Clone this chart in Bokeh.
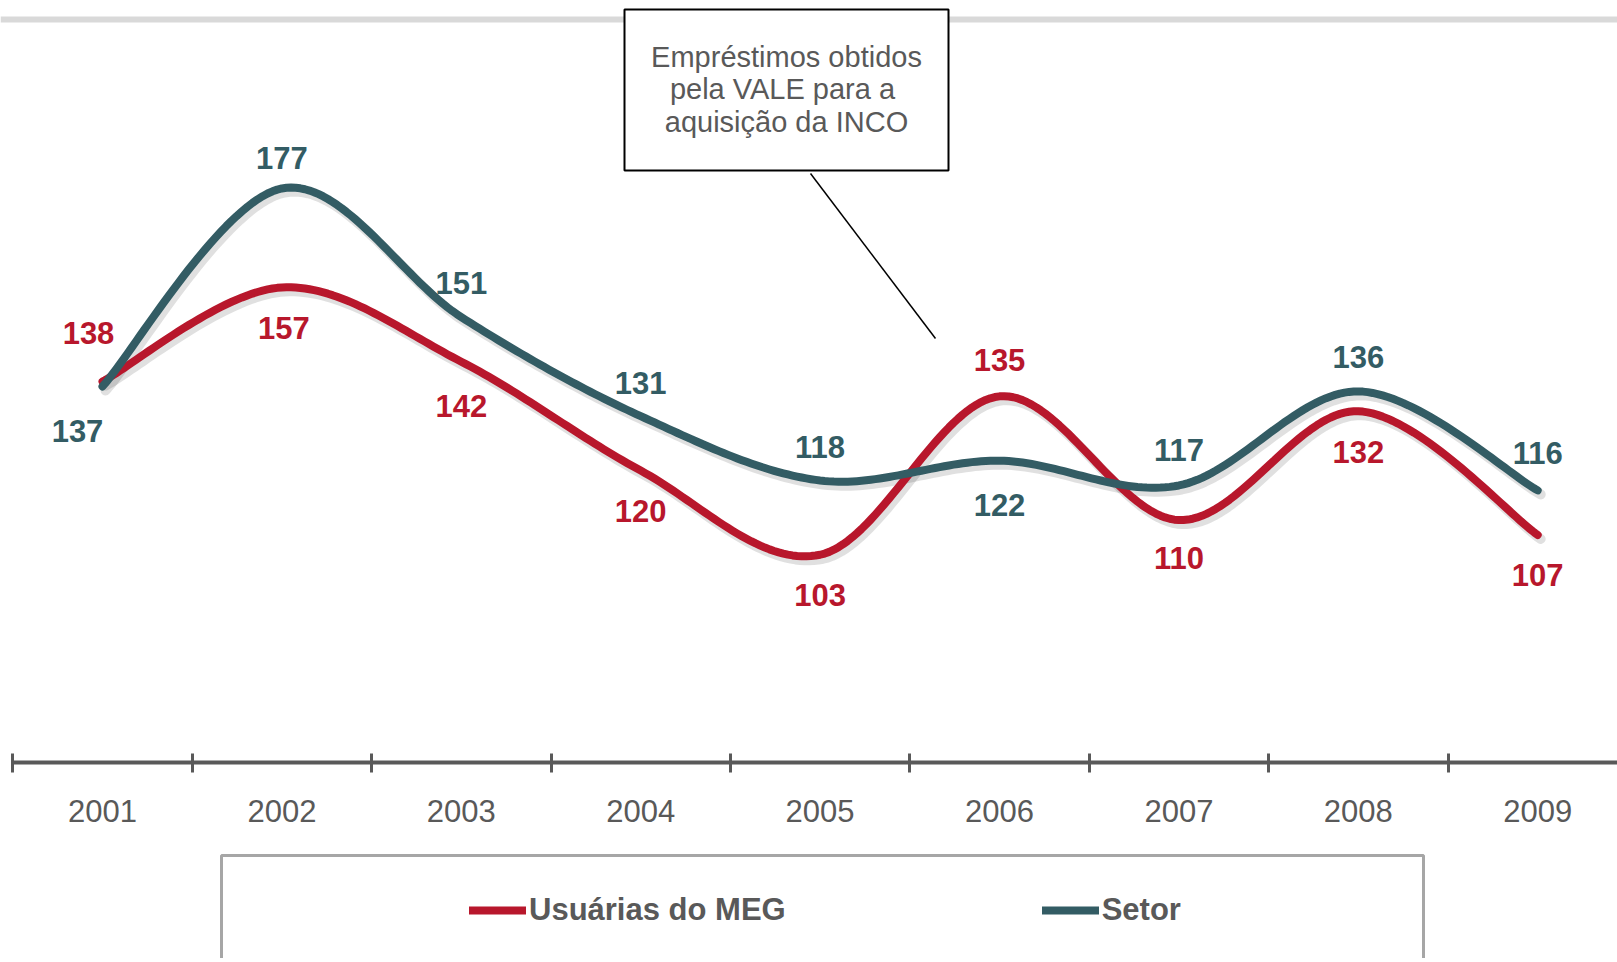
import numpy as np
from bokeh.plotting import figure
from bokeh.models import (Range1d, LinearAxis, FixedTicker, Span, Legend, LegendItem,
                          ColumnDataSource)
from bokeh.core.properties import value
from bokeh.embed import file_html
from bokeh.resources import INLINE

# ---------------- data ----------------
years = ["2001", "2002", "2003", "2004", "2005", "2006", "2007", "2008", "2009"]
usuarias = [138, 157, 142, 120, 103, 135, 110, 132, 107]
setor = [137, 177, 151, 131, 118, 122, 117, 136, 116]
series_names = ["Usuárias do MEG", "Setor"]
note_text = "Empréstimos obtidos\npela  VALE para a\naquisição da INCO"

# ---------------- style ----------------
RED = "#B8172C"
TEAL = "#335C64"
GRAY_TXT = "#595959"
FONT = "Liberation Sans"

# page-pixel calibration (frame covers whole figure, figure at page origin)
W, H = 1617, 958
PAGE0 = 0
PX_X = 179.4           # px per category
X0 = 102.0             # page x of first category
PX_V = 4.95            # px per value unit
V0 = 1064.1            # page y of value 0


def dx(px):
    return (px - X0) / PX_X


def dy(py):
    return (V0 - py) / PX_V


p = figure(width=W, height=H, output_backend="svg", toolbar_location=None,
           x_axis_type=None, y_axis_type=None, title=None,
           x_range=Range1d(dx(PAGE0), dx(PAGE0 + W)),
           y_range=Range1d(dy(PAGE0 + H), dy(PAGE0)),
           min_border=0, min_border_left=0, min_border_right=0,
           min_border_top=0, min_border_bottom=0)
p.outline_line_color = None
p.background_fill_color = "white"
p.border_fill_color = "white"

AXIS_V = dy(762)
GRID_V = dy(19)

# top light gray line
p.add_layout(Span(location=GRID_V, dimension="width", line_color="#D9D9D9",
                  line_width=6, level="underlay"))

# x axis: labels at categories, tick marks between categories (minor ticks)
n = len(years)
x_axis = LinearAxis(fixed_location=AXIS_V,
                    ticker=FixedTicker(ticks=list(range(n)),
                                       minor_ticks=[i - 0.5 for i in range(n + 1)]),
                    major_label_overrides={i: y for i, y in enumerate(years)},
                    axis_line_color=GRAY_TXT, axis_line_width=4,
                    major_tick_line_color=None,
                    major_tick_in=0, major_tick_out=0,
                    minor_tick_line_color=GRAY_TXT, minor_tick_line_width=3,
                    minor_tick_in=9, minor_tick_out=10,
                    major_label_standoff=27,
                    major_label_text_font=FONT,
                    major_label_text_font_size="31px",
                    major_label_text_color=GRAY_TXT,
                    bounds=(-0.5, n + 0.5))
p.add_layout(x_axis, "below")


# smooth curve (Excel-style bezier through the points)
def smooth(xs, ys, steps=40):
    pts = np.column_stack([xs, ys]).astype(float)
    out = []
    m = len(pts)
    t = np.linspace(0, 1, steps)
    for i in range(m - 1):
        p0 = pts[i - 1] if i > 0 else pts[i]
        p1 = pts[i]
        p2 = pts[i + 1]
        p3 = pts[i + 2] if i + 2 < m else pts[i + 1]
        c1 = p1 + (p2 - p0) / 6.0
        c2 = p2 - (p3 - p1) / 6.0
        seg = ((1 - t) ** 3)[:, None] * p1 + (3 * (1 - t) ** 2 * t)[:, None] * c1 \
            + (3 * (1 - t) * t ** 2)[:, None] * c2 + (t ** 3)[:, None] * p2
        out.append(seg if i == 0 else seg[1:])
    arr = np.vstack(out)
    return arr[:, 0], arr[:, 1]


xs = list(range(n))
renderers = []
for vals, col in [(usuarias, RED), (setor, TEAL)]:
    sx, sy = smooth(xs, vals)
    # soft shadow
    p.line(sx + 3 / PX_X, sy - 4 / PX_V, line_color="black", line_alpha=0.12,
           line_width=10, line_cap="round", line_join="round")
for vals, col in [(usuarias, RED), (setor, TEAL)]:
    sx, sy = smooth(xs, vals)
    r = p.line(sx, sy, line_color=col, line_width=8, line_cap="round", line_join="round")
    renderers.append(r)

# data labels
red_yoff = [-49, 41, 44, 40, 40, -36, 38, 41, 40]
red_xoff = [-14, 2, 0, 0, 0, 0, 0, 0, 0]
teal_yoff = [45, -30, -34, -33, -34, 44, -35, -34, -37]
teal_xoff = [-25, 0, 0, 0, 0, 0, 0, 0, 0]
for vals, col, xo, yo in [(usuarias, RED, red_xoff, red_yoff), (setor, TEAL, teal_xoff, teal_yoff)]:
    src = ColumnDataSource(dict(x=xs, y=vals, t=[str(v) for v in vals], xo=xo, yo=yo))
    p.text(x="x", y="y", text="t", x_offset="xo", y_offset="yo", source=src,
           text_color=col, text_font=value(FONT), text_font_style="bold",
           text_font_size="31px", text_align="center", text_baseline="middle")

# annotation box + leader line
p.quad(left=[dx(624)], right=[dx(948)], top=[dy(9)], bottom=[dy(170)],
       fill_color="white", line_color="black", line_width=2)
p.segment(x0=[dx(810)], y0=[dy(173)], x1=[dx(935)], y1=[dy(338)],
          line_color="black", line_width=1.5)
p.text(x=[dx(786)], y=[dy(89)], text=[note_text], text_color=GRAY_TXT,
       text_font=value(FONT), text_font_size="29px", text_align="center",
       text_baseline="middle", text_line_height=1.03)

# legend frame
p.quad(left=[dx(221)], right=[dx(1423)], top=[dy(855)], bottom=[dy(1010)],
       fill_color="white", line_color="#A6A6A6", line_width=3)

legend = Legend(items=[LegendItem(label=series_names[0], renderers=[renderers[0]]),
                       LegendItem(label=series_names[1], renderers=[renderers[1]])],
                orientation="horizontal", location=(469 - PAGE0, H - (910 - PAGE0) - 18),
                glyph_width=57, glyph_height=30, label_height=30, label_standoff=3,
                spacing=256, padding=0, margin=0,
                border_line_alpha=0, background_fill_alpha=0,
                label_text_font=FONT, label_text_font_style="bold",
                label_text_font_size="31px", label_text_color=GRAY_TXT)
p.add_layout(legend, "center")

open("out.html", "w").write(file_html(p, INLINE))
